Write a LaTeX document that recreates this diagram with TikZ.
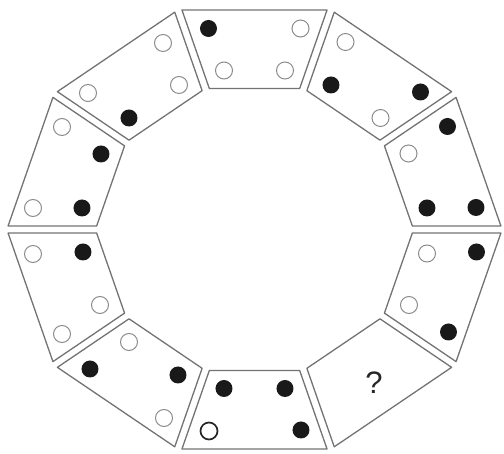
\documentclass[tikz,border=0pt]{standalone}
\usepackage{fontspec}
\setmainfont{Liberation Sans}
\tikzset{
  piece/.style={draw=black!55, line width=1.3pt, line join=round},
  blackdot/.style={fill=black!90},
  whitedot/.style={draw=black!45, line width=1pt},
  darkring/.style={draw=black!85, line width=1.7pt},
}
\begin{document}
\begin{tikzpicture}[x=1pt,y=1pt]
\useasboundingbox (-254.5,-224.5) rectangle (249.5,229.5);
% ring of ten pieces
\begin{scope}[xscale=1.073]
\foreach \a in {90,54,...,-234}
  \draw[piece, rotate=\a-90] (-67.6,219.5) -- (67.6,219.5) -- (42.1,141) -- (-42.1,141) -- cycle;
\end{scope}
% top
\fill[blackdot] (-46,201) circle (8.5);
\draw[whitedot] (46,201) circle (8.5);
\draw[whitedot] (-30.5,159) circle (8.5);
\draw[whitedot] (30.5,159) circle (8.5);
% upper right
\draw[whitedot] (91,187.5) circle (8.5);
\fill[blackdot] (76.5,144.5) circle (8.5);
\fill[blackdot] (166,137.5) circle (8.5);
\draw[whitedot] (126,111.5) circle (8.5);
% right, upper
\fill[blackdot] (193,103) circle (8.5);
\draw[whitedot] (154,76) circle (8.5);
\fill[blackdot] (172.5,21.5) circle (8.5);
\fill[blackdot] (221.5,22) circle (8.5);
% right, lower
\draw[whitedot] (172.5,-24) circle (8.5);
\fill[blackdot] (222,-22.5) circle (8.5);
\draw[whitedot] (154.5,-75.5) circle (8.5);
\fill[blackdot] (194,-102.5) circle (8.5);
% lower right
\node[font=\fontsize{31}{36}\selectfont, text=black!85] (q) at (119.5,-153) {?};
% bottom
\fill[blackdot] (-30.5,-159) circle (8.5);
\fill[blackdot] (30.5,-159) circle (8.5);
\draw[darkring] (-45.5,-201.5) circle (8.5);
\fill[blackdot] (46.5,-200.5) circle (8.5);
% lower left
\draw[whitedot] (-125.5,-112.5) circle (8.5);
\fill[blackdot] (-164.5,-139.5) circle (8.5);
\fill[blackdot] (-76.5,-145.5) circle (8.5);
\draw[whitedot] (-90.5,-188.5) circle (8.5);
% left, lower
\draw[whitedot] (-221.5,-24.5) circle (8.5);
\fill[blackdot] (-171.5,-22.5) circle (8.5);
\draw[whitedot] (-154.5,-75.5) circle (8.5);
\draw[whitedot] (-192.5,-104.5) circle (8.5);
% left, upper
\draw[whitedot] (-192.5,102.5) circle (8.5);
\fill[blackdot] (-153.5,75.5) circle (8.5);
\draw[whitedot] (-221.5,21.5) circle (8.5);
\fill[blackdot] (-172.5,21.5) circle (8.5);
% upper left
\draw[whitedot] (-91.5,186.5) circle (8.5);
\draw[whitedot] (-75.5,144.5) circle (8.5);
\draw[whitedot] (-166.5,136.5) circle (8.5);
\fill[blackdot] (-125.5,111.5) circle (8.5);
\end{tikzpicture}
\end{document}
